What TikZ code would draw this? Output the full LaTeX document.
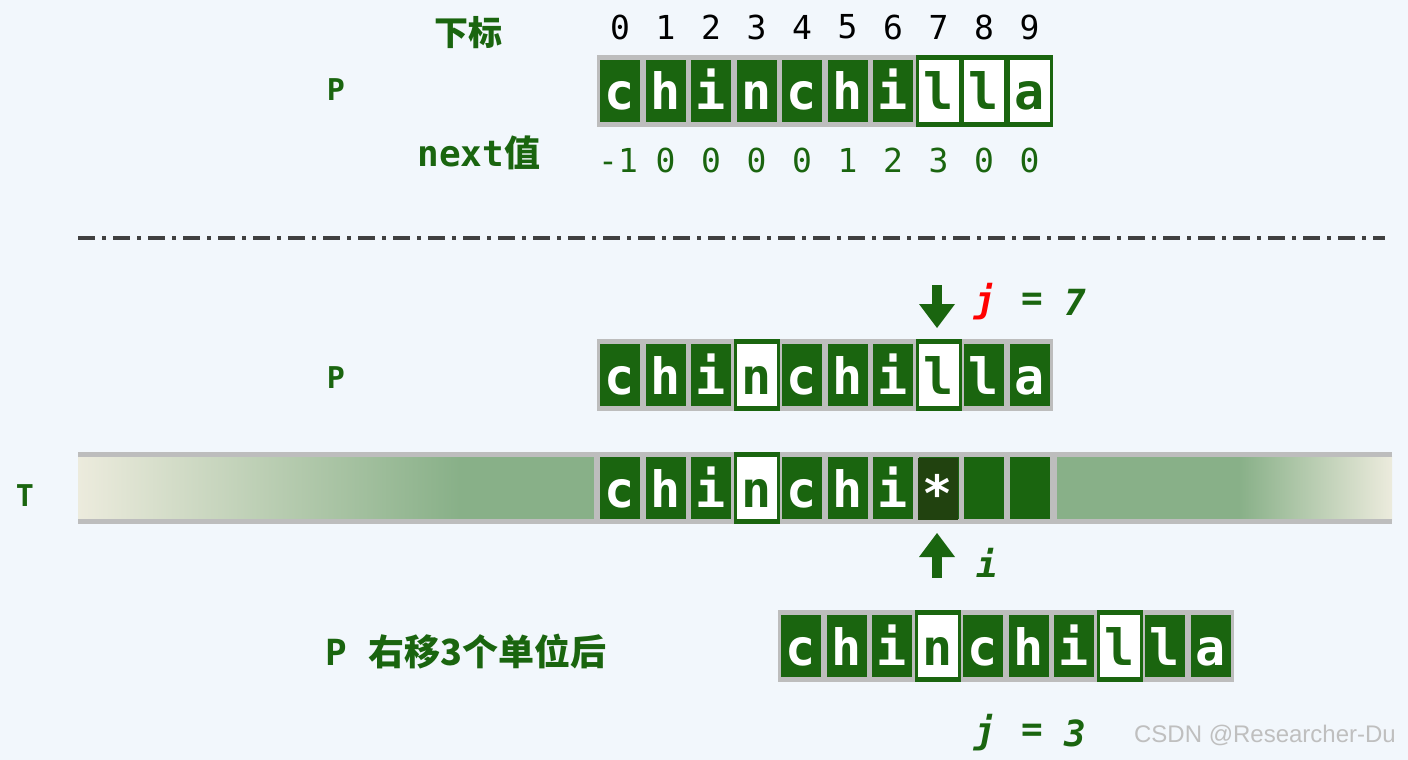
\documentclass[tikz,border=0pt]{standalone}
\usepackage{fontspec}
\newfontfamily\mono{DejaVu Sans Mono}
\newfontfamily\cjk{Noto Sans CJK SC}
\definecolor{bg}{HTML}{F2F7FC}
\definecolor{dg}{HTML}{1A650F}
\definecolor{lg}{HTML}{88B088}
\definecolor{beige}{HTML}{ECEBDD}
\definecolor{gr}{HTML}{BDBDBD}
\definecolor{star}{HTML}{21420F}
\tikzset{
 cellbox/.style={fill=dg,minimum width=40pt,minimum height=62pt,inner sep=0,text height=38pt,text depth=0pt,text=white,font=\mono\bfseries\fontsize{50}{50}\selectfont},
 hibox/.style={cellbox,fill=white,text=dg},
 lab/.style={text=dg,font=\mono\bfseries\fontsize{30}{30}\selectfont},
 cjklab/.style={text=dg,font=\cjk\bfseries\fontsize{34}{34}\selectfont},
 idx/.style={font=\mono\fontsize{33}{33}\selectfont},
 var/.style={text=dg,font=\mono\bfseries\itshape\fontsize{36}{36}\selectfont},
}
\newcommand\arow[5]{%
 \fill[gr] (#1-23,#2-36) rectangle (#1+9*45.5+23,#2+36);
 \foreach \ch [count=\k from 0] in {#4} {
   \edef\hl{0}\foreach \h in {#5}{\ifnum\h=\k\relax\xdef\hl{1}\fi}
   \ifnum\hl=1\relax
     \fill[dg] (#1+\k*45.5-23,#2-36) rectangle (#1+\k*45.5+23,#2+36);
     \node[hibox] (#3\k) at (#1+\k*45.5,#2) {\ch};
   \else
     \node[cellbox] (#3\k) at (#1+\k*45.5,#2) {\ch};
   \fi
 }}
\begin{document}
\begin{tikzpicture}[x=1pt,y=-1pt]
\fill[bg] (0,0) rectangle (1408,760);
\useasboundingbox (0,0) rectangle (1408,760);
% top
\node[cjklab] (xb) at (468,33) {下标};
\node[lab] (p1) at (336,90) {P};
\node[cjklab,anchor=west,font=\cjk\bfseries\fontsize{36}{36}\selectfont] (nv) at (414,153) {\mono next\cjk 值};
\arow{620}{91}{a}{c,h,i,n,c,h,i,l,l,a}{7,8,9}
\foreach \d in {0,...,9} \node[idx] (ix\d) at (620+\d*45.5,27) {\d};
\foreach \v [count=\k from 0] in {-1,0,0,0,0,1,2,3,0,0}
  \node[idx,text=dg] (nx\k) at (620+\k*45.5+\ifnum\k=0 -2\else 0\fi,160) {\v};
% separator
\draw[line width=4pt,color=black!75,dash pattern=on 17pt off 7pt on 4pt off 7pt] (78,238) coordinate (s1) -- (1385,238) coordinate (s2);
% middle P
\node[lab] (p2) at (336,378) {P};
\arow{620}{375}{b}{c,h,i,n,c,h,i,l,l,a}{3,7}
\node[var,text=red] (j7) at (985,302) {j};
\node[var] (j7e) at (1032,302) {=};
\node[var] (j7n) at (1075,302) {7};
\fill[dg] (932,285) rectangle (942,305);
\fill[dg] (919,304) -- (955,304) -- (937,328) -- cycle;
% T
\node[lab] (tl) at (25,496) {T};
\shade[left color=beige,right color=lg] (78,456) rectangle (460,520);
\fill[lg] (459,456) rectangle (600,520);
\fill[lg] (1056,456) rectangle (1240,520);
\shade[left color=lg,right color=beige] (1239,456) rectangle (1392,520);
\fill[gr] (78,452) rectangle (1392,457);
\fill[gr] (78,519) rectangle (1392,524);
\arow{620}{488}{t}{c,h,i,n,c,h,i,{},{},{}}{3}
\fill[gr] (594,452) rectangle (599,524);
\fill[gr] (1052,452) rectangle (1057,524);
\fill[star] (918,458) rectangle (958,520);
\node[cellbox,fill=none,minimum height=0pt,text height=46pt] (tstar) at (938,488) {*};
% up arrow
\fill[dg] (932,555) rectangle (942,578);
\fill[dg] (919,557) -- (955,557) -- (937,533) -- cycle;
\node[var] (iv) at (987,563) {i};
% bottom P
\node[cjklab,anchor=west,font=\cjk\bfseries\fontsize{36}{36}\selectfont] (p3) at (322,652) {\mono P \cjk 右移3个单位后};
\arow{801}{646}{c}{c,h,i,n,c,h,i,l,l,a}{3,7}
\node[var] (j3) at (985,733) {j};
\node[var] (j3e) at (1032,733) {=};
\node[var] (j3n) at (1075,733) {3};
\node[text=black!25,font=\fontspec{Liberation Sans}\fontsize{24}{24}\selectfont] (wm) at (1265,735) {CSDN @Researcher-Du};
\end{tikzpicture}
\end{document}
